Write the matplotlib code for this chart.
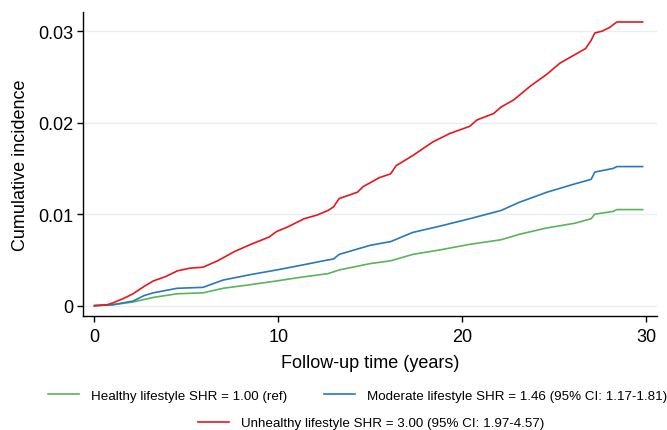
import matplotlib
matplotlib.use("Agg")
import matplotlib.pyplot as plt

plt.rcParams['font.family'] = ['Liberation Sans', 'DejaVu Sans']

# courbes d'incidence cumulee
time_healthy = [0, 1.0, 2.1, 3.2, 4.5, 5.9, 7.0, 8.5, 9.9, 11.2, 12.7, 13.3, 15.0, 16.1,
                17.3, 18.8, 20.4, 22.1, 23.1, 24.6, 26.1, 27.0, 27.2, 28.2, 28.4, 29.8]
ci_healthy = [0, 0.0001, 0.0004, 0.0009, 0.0013, 0.0014, 0.0019, 0.0023, 0.0027, 0.0031,
              0.0035, 0.0039, 0.0046, 0.0049, 0.0056, 0.0061, 0.0067, 0.0072, 0.0078, 0.0085,
              0.0090, 0.0095, 0.0100, 0.0103, 0.0105, 0.0105]

time_moderate = [0, 1.0, 2.1, 2.7, 3.2, 4.5, 5.9, 7.0, 8.5, 9.9, 11.2, 12.7, 13.0, 13.3,
                 15.0, 16.1, 17.3, 18.8, 20.4, 22.1, 23.1, 24.6, 26.1, 27.0, 27.2, 28.2, 28.4, 29.8]
ci_moderate = [0, 0.0001, 0.0005, 0.0011, 0.0014, 0.0019, 0.0020, 0.0028, 0.0034, 0.0039,
               0.0044, 0.0050, 0.0051, 0.0056, 0.0066, 0.0070, 0.0080, 0.0087, 0.0095, 0.0104,
               0.0113, 0.0124, 0.0133, 0.0138, 0.0146, 0.0150, 0.0152, 0.0152]

time_unhealthy = [0, 0.7, 1.0, 1.6, 2.1, 2.7, 3.2, 3.9, 4.5, 5.2, 5.9, 6.7, 7.6, 8.5, 9.5,
                  9.9, 10.5, 11.4, 12.1, 12.7, 13.0, 13.3, 14.3, 14.6, 15.5, 16.1, 16.4, 17.3,
                  18.4, 19.3, 20.4, 20.8, 21.7, 22.1, 22.8, 23.7, 24.6, 25.3, 26.0, 26.7, 27.0,
                  27.2, 27.6, 28.0, 28.4, 29.8]
ci_unhealthy = [0, 0.0001, 0.0003, 0.0008, 0.0013, 0.0021, 0.0027, 0.0032, 0.0038, 0.0041,
                0.0042, 0.0049, 0.0059, 0.0067, 0.0075, 0.0081, 0.0086, 0.0095, 0.0099, 0.0104,
                0.0108, 0.0117, 0.0124, 0.0130, 0.0140, 0.0144, 0.0153, 0.0164, 0.0179, 0.0188,
                0.0196, 0.0203, 0.0210, 0.0217, 0.0225, 0.0240, 0.0253, 0.0265, 0.0273, 0.0281,
                0.0290, 0.0298, 0.0300, 0.0304, 0.0310, 0.0310]

labels = ["Healthy lifestyle SHR = 1.00 (ref)",
          "Moderate lifestyle SHR = 1.46 (95% CI: 1.17-1.81)",
          "Unhealthy lifestyle SHR = 3.00 (95% CI: 1.97-4.57)"]

xticks = [0, 10, 20, 30]
yticks = [0, 0.01, 0.02, 0.03]
ytick_labels = ["0", "0.01", "0.02", "0.03"]

GREEN = "#5bb35b"
BLUE = "#2878bb"
RED = "#e8161e"

fig = plt.figure(figsize=(6.67, 4.31), dpi=100)
ax = fig.add_axes([0.125, 0.2645, 0.86, 0.7055])

for yt in yticks:
    ax.axhline(yt, color="#e8eff0", lw=1.0, zorder=0)

l_h, = ax.plot(time_healthy, ci_healthy, color=GREEN, lw=1.2)
l_m, = ax.plot(time_moderate, ci_moderate, color=BLUE, lw=1.2)
l_u, = ax.plot(time_unhealthy, ci_unhealthy, color=RED, lw=1.2)

ax.set_xlim(-0.6, 30.58)
ax.set_ylim(-0.00113, 0.0321)
ax.set_xticks(xticks)
ax.set_yticks(yticks)
ax.set_yticklabels(ytick_labels)
ax.tick_params(axis="both", labelsize=13, length=4.5, width=1.0, color="black")
ax.tick_params(axis="x", pad=4)
ax.tick_params(axis="y", pad=3)

for s in ["top", "right"]:
    ax.spines[s].set_visible(False)
for s in ["left", "bottom"]:
    ax.spines[s].set_linewidth(1.0)

ax.set_xlabel("Follow-up time (years)", fontsize=13)
ax.xaxis.set_label_coords(0.5, -0.125)
ax.set_ylabel("Cumulative incidence", fontsize=13)
ax.yaxis.set_label_coords(-0.095, 0.5)

# legende : une entree par appel pour caler chaque element
leg_pos = [(48 / 667, 0.079), (324 / 667, 0.079), (198 / 667, 0.016)]
for line, lab, pos in zip([l_h, l_m, l_u], labels, leg_pos):
    fig.legend([line], [lab], loc="center left", bbox_to_anchor=pos,
               frameon=False, fontsize=9.6, handlelength=2.35, handletextpad=0.9,
               borderpad=0, borderaxespad=0)

fig.savefig("out.png", dpi=100)
